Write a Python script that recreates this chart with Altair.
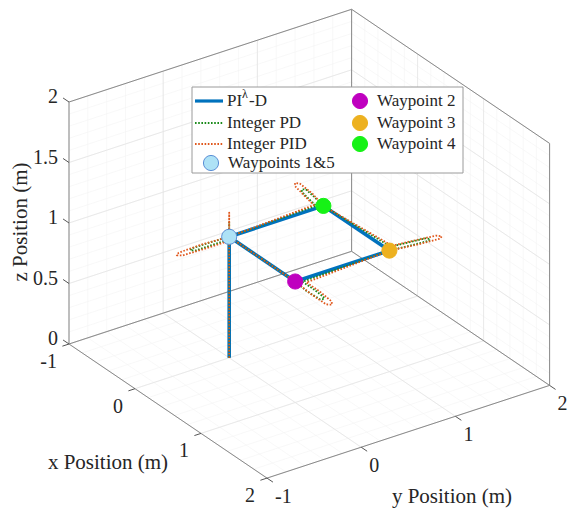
import altair as alt
import pandas as pd
import numpy as np

# ---------------- data (metres) ----------------
x_ticks = [-1, 0, 1, 2]
y_ticks = [-1, 0, 1, 2]
z_ticks = [0, 0.5, 1, 1.5, 2]
x_tick_labels = ["-1", "0", "1", "2"]
y_tick_labels = ["-1", "0", "1", "2"]
z_tick_labels = ["0", "0.5", "1", "1.5", "2"]

# PI^lambda-D trajectory
fo_x = [0, 0, 1.0, 1.0, 0.0, 0.0]
fo_y = [0, 0, 0.0, 1.0, 1.0, 0.0]
fo_z = [0, 1, 1.0, 1.0, 1.0, 1.0]

# Integer PD trajectory
pd_x = [0, 0, 0,
        1.0, 1.2, 1.39, 1.41, 1.37, 1.2, 1.04,
        1.0, 1.01, 1.01, 0.99, 0.96, 0.95, 0.95,
        0.0, -0.15, -0.28, -0.30, -0.27, -0.15, -0.04,
        0.0, -0.01, -0.01, 0.01, 0.04, 0.04, 0.04, 0.01]
pd_y = [0, 0, 0,
        0.0, -0.02, -0.01, 0.02, 0.04, 0.05, 0.05,
        1.0, 1.22, 1.41, 1.44, 1.41, 1.22, 1.05,
        1.0, 1.01, 1.01, 0.98, 0.96, 0.95, 0.95,
        0.0, -0.2, -0.39, -0.42, -0.39, -0.2, -0.04, 0.0]
pd_z = [0, 1.12, 1.0,
        1.0, 1.0, 1.0, 1.0, 1.0, 1.0, 1.0,
        1.0, 0.99, 0.98, 0.98, 0.982, 0.99, 1.0,
        1.0, 1.015, 1.03, 1.03, 1.028, 1.015, 1.0,
        1.0, 1.0, 1.0, 1.0, 1.0, 1.0, 1.0, 1.0]

# Integer PID trajectory
pid_x = [0, 0, 0,
         1.0, 1.27, 1.50, 1.53, 1.48, 1.27, 1.07,
         1.0, 1.02, 1.01, 0.98, 0.95, 0.94, 0.94,
         0.0, -0.2, -0.37, -0.40, -0.36, -0.2, -0.06,
         0.0, -0.02, -0.01, 0.02, 0.05, 0.06, 0.06, 0.02]
pid_y = [0, 0, 0,
         0.0, -0.02, -0.02, 0.02, 0.05, 0.07, 0.07,
         1.0, 1.28, 1.53, 1.57, 1.53, 1.28, 1.07,
         1.0, 1.02, 1.01, 0.98, 0.95, 0.94, 0.94,
         0.0, -0.28, -0.53, -0.57, -0.53, -0.28, -0.06, 0.0]
pid_z = [0, 1.2, 1.0,
         1.0, 1.0, 1.0, 1.0, 1.0, 1.0, 1.0,
         1.0, 0.985, 0.967, 0.965, 0.97, 0.985, 1.0,
         1.0, 1.025, 1.045, 1.047, 1.044, 1.025, 1.0,
         1.0, 1.0, 1.0, 1.0, 1.0, 1.0, 1.0, 1.0]

# waypoints
wp_names = ["Waypoints 1&5", "Waypoint 2", "Waypoint 3", "Waypoint 4"]
wp_x = [0, 1, 1, 0]
wp_y = [0, 0, 1, 1]
wp_z = [1, 1, 1, 1]
wp_fill = ["#aee2f6", "#bf00bf", "#edb120", "#16f216"]
wp_stroke = ["#5b8fd6", "#bf00bf", "#edb120", "#16f216"]

series_names = ["Integer PD", "Integer PID"]
series_colors = ["#0072bd", "#1a8a1a", "#e0571c"]

# ---------------- projection (view of the 3-D box) ----------------
O = (69.0, 344.0)          # screen position of (x=-1, y=-1, z=0)
EX = (66.0, 44.7)          # one metre along x
EY = (94.2, -30.9)         # one metre along y
EZ = (0.0, -121.0)         # one metre along z


def proj(x, y, z):
    px = O[0] + EX[0] * (x + 1) + EY[0] * (y + 1) + EZ[0] * z
    py = O[1] + EX[1] * (x + 1) + EY[1] * (y + 1) + EZ[1] * z
    return px, py


W, H = 569, 511
XS = alt.Scale(domain=[0, W], nice=False, zero=False)
YS = alt.Scale(domain=[0, H], reverse=True, nice=False, zero=False)
FONT = "Liberation Serif"
TXT = "#262626"
DOT = [1.6, 1.6]


def seg_df(segs):
    rows = []
    for (a, b) in segs:
        p1 = proj(*a)
        p2 = proj(*b)
        rows.append({"px": p1[0], "py": p1[1], "px2": p2[0], "py2": p2[1]})
    return pd.DataFrame(rows)


def rules(df, color, width, dash=None):
    kw = dict(color=color, strokeWidth=width)
    if dash:
        kw["strokeDash"] = dash
    return alt.Chart(df).mark_rule(**kw).encode(
        x=alt.X("px:Q", scale=XS, axis=None),
        y=alt.Y("py:Q", scale=YS, axis=None),
        x2="px2:Q", y2="py2:Q")


xmin, xmax = x_ticks[0], x_ticks[-1]
ymin, ymax = y_ticks[0], y_ticks[-1]
zmin, zmax = z_ticks[0], z_ticks[-1]

xm = np.round(np.arange(xmin, xmax + 1e-9, 0.2), 3)
ym = np.round(np.arange(ymin, ymax + 1e-9, 0.2), 3)
zm = np.round(np.arange(zmin, zmax + 1e-9, 0.1), 3)


def grid_segs(xv, yv, zv):
    s = []
    for x in xv:
        s.append(((x, ymin, 0), (x, ymax, 0)))          # floor
        s.append(((x, ymax, zmin), (x, ymax, zmax)))    # back wall y=max
    for y in yv:
        s.append(((xmin, y, 0), (xmax, y, 0)))          # floor
        s.append(((xmin, y, zmin), (xmin, y, zmax)))    # back wall x=min
    for z in zv:
        s.append(((xmin, ymin, z), (xmin, ymax, z)))
        s.append(((xmin, ymax, z), (xmax, ymax, z)))
    return s


minor = rules(seg_df(grid_segs(xm, ym, zm)), "#f3f3f3", 0.6)
major = rules(seg_df(grid_segs(x_ticks, y_ticks, z_ticks)), "#e4e4e4", 0.8)

box_segs = [
    ((xmin, ymin, 0), (xmax, ymin, 0)),
    ((xmax, ymin, 0), (xmax, ymax, 0)),
    ((xmin, ymin, 0), (xmin, ymax, 0)),
    ((xmin, ymax, 0), (xmax, ymax, 0)),
    ((xmin, ymin, zmin), (xmin, ymin, zmax)),
    ((xmin, ymax, zmin), (xmin, ymax, zmax)),
    ((xmax, ymax, zmin), (xmax, ymax, zmax)),
    ((xmin, ymin, zmax), (xmin, ymax, zmax)),
    ((xmin, ymax, zmax), (xmax, ymax, zmax)),
]
tick_segs = ([((x, ymin, 0), (x, ymin - 0.07, 0)) for x in x_ticks] +
             [((xmax, y, 0), (xmax + 0.09, y, 0)) for y in y_ticks] +
             [((xmin, ymin, z), (xmin - 0.09, ymin, z)) for z in z_ticks])
box = rules(seg_df(box_segs), "#8a8a8a", 1)
ticks = rules(seg_df(tick_segs), "#555555", 1)


def text_layer(df, align, size=20, angle=0, baseline="middle"):
    return alt.Chart(df).mark_text(
        align=align, baseline=baseline, font=FONT, fontSize=size,
        color=TXT, angle=angle).encode(
        x=alt.X("px:Q", scale=XS, axis=None),
        y=alt.Y("py:Q", scale=YS, axis=None),
        text="t:N")


xl = pd.DataFrame([{"px": proj(x, ymin, 0)[0] - 12, "py": proj(x, ymin, 0)[1] + 18, "t": t}
                   for x, t in zip(x_ticks, x_tick_labels)])
yl = pd.DataFrame([{"px": proj(xmax, y, 0)[0] + 8, "py": proj(xmax, y, 0)[1] + 19, "t": t}
                   for y, t in zip(y_ticks, y_tick_labels)])
zl = pd.DataFrame([{"px": proj(xmin, ymin, z)[0] - 11, "py": proj(xmin, ymin, z)[1] - 5, "t": t}
                   for z, t in zip(z_ticks, z_tick_labels)])
xlab = text_layer(xl, "right")
ylab = text_layer(yl, "left")
zlab = text_layer(zl, "right")

titles_h = text_layer(pd.DataFrame([
    {"px": 108, "py": 463, "t": "x Position (m)"},
    {"px": 452, "py": 497, "t": "y Position (m)"},
]), "center", size=21)
title_z = text_layer(pd.DataFrame([{"px": 21, "py": 222, "t": "z Position (m)"}]),
                     "center", size=21, angle=270)


def traj_df(xs, ys, zs):
    rows = []
    for i, (x, y, z) in enumerate(zip(xs, ys, zs)):
        px, py = proj(x, y, z)
        rows.append({"px": px, "py": py, "i": i})
    return pd.DataFrame(rows)


def traj(df, color, width, dash=None):
    kw = dict(color=color, strokeWidth=width, strokeJoin="round")
    if dash:
        kw["strokeDash"] = dash
    return alt.Chart(df).mark_line(**kw).encode(
        x=alt.X("px:Q", scale=XS, axis=None),
        y=alt.Y("py:Q", scale=YS, axis=None),
        order="i:Q")


l_fo = traj(traj_df(fo_x, fo_y, fo_z), series_colors[0], 3.6)
l_pd = traj(traj_df(pd_x, pd_y, pd_z), series_colors[1], 1.8, DOT)
l_pid = traj(traj_df(pid_x, pid_y, pid_z), series_colors[2], 1.8, DOT)

wp_rows = []
for n, x, y, z, f, s in zip(wp_names, wp_x, wp_y, wp_z, wp_fill, wp_stroke):
    px, py = proj(x, y, z)
    wp_rows.append({"px": px, "py": py, "name": n, "fill": f, "stroke": s})
wp_df = pd.DataFrame(wp_rows)
wps = alt.Chart(wp_df).mark_point(shape="circle", filled=True, size=230,
                                  opacity=1, strokeWidth=1).encode(
    x=alt.X("px:Q", scale=XS, axis=None),
    y=alt.Y("py:Q", scale=YS, axis=None),
    fill=alt.Fill("fill:N", scale=None),
    stroke=alt.Stroke("stroke:N", scale=None))

# ---------------- legend ----------------
leg_box = alt.Chart(pd.DataFrame([{"a": 192, "b": 463, "c": 87, "d": 173}])).mark_rect(
    fill="white", stroke="#9a9a9a", strokeWidth=1).encode(
    x=alt.X("a:Q", scale=XS, axis=None), x2="b:Q",
    y=alt.Y("c:Q", scale=YS, axis=None), y2="d:Q")

row_y = [101, 123, 144, 163]
leg_lines = []
for k, (col, wdt, dash) in enumerate([(series_colors[0], 3.2, None),
                                      (series_colors[1], 2, DOT),
                                      (series_colors[2], 2, DOT)]):
    leg_lines.append(rules(pd.DataFrame([{"px": 195, "py": row_y[k], "px2": 223, "py2": row_y[k]}]),
                           col, wdt, dash))

leg_pts = pd.DataFrame([
    {"px": 211, "py": row_y[3], "fill": wp_fill[0], "stroke": wp_stroke[0]},
    {"px": 360, "py": row_y[0], "fill": wp_fill[1], "stroke": wp_stroke[1]},
    {"px": 360, "py": row_y[1], "fill": wp_fill[2], "stroke": wp_stroke[2]},
    {"px": 360, "py": row_y[2], "fill": wp_fill[3], "stroke": wp_stroke[3]},
])
leg_marks = alt.Chart(leg_pts).mark_point(shape="circle", filled=True, size=230,
                                          opacity=1, strokeWidth=1).encode(
    x=alt.X("px:Q", scale=XS, axis=None),
    y=alt.Y("py:Q", scale=YS, axis=None),
    fill=alt.Fill("fill:N", scale=None),
    stroke=alt.Stroke("stroke:N", scale=None))

leg_txt = text_layer(pd.DataFrame([
    {"px": 227, "py": row_y[0], "t": "PI"},
    {"px": 249, "py": row_y[0], "t": "-D"},
    {"px": 227, "py": row_y[1], "t": series_names[0]},
    {"px": 227, "py": row_y[2], "t": series_names[1]},
    {"px": 228, "py": row_y[3], "t": wp_names[0]},
    {"px": 377, "py": row_y[0], "t": wp_names[1]},
    {"px": 377, "py": row_y[1], "t": wp_names[2]},
    {"px": 377, "py": row_y[2], "t": wp_names[3]},
]), "left", size=17)
leg_sup = text_layer(pd.DataFrame([{"px": 242, "py": row_y[0] - 7, "t": "λ"}]), "left", size=12)

chart = alt.layer(
    minor, major, box, ticks, xlab, ylab, zlab, titles_h, title_z,
    l_fo, l_pd, l_pid, wps,
    leg_box, *leg_lines, leg_marks, leg_txt, leg_sup
).properties(
    width=W, height=H, padding=0,
    autosize=alt.AutoSizeParams(type="none"),
    background="white"
).configure_view(stroke=None)

chart.save("out.html", embed_options={"renderer": "svg", "actions": False})
